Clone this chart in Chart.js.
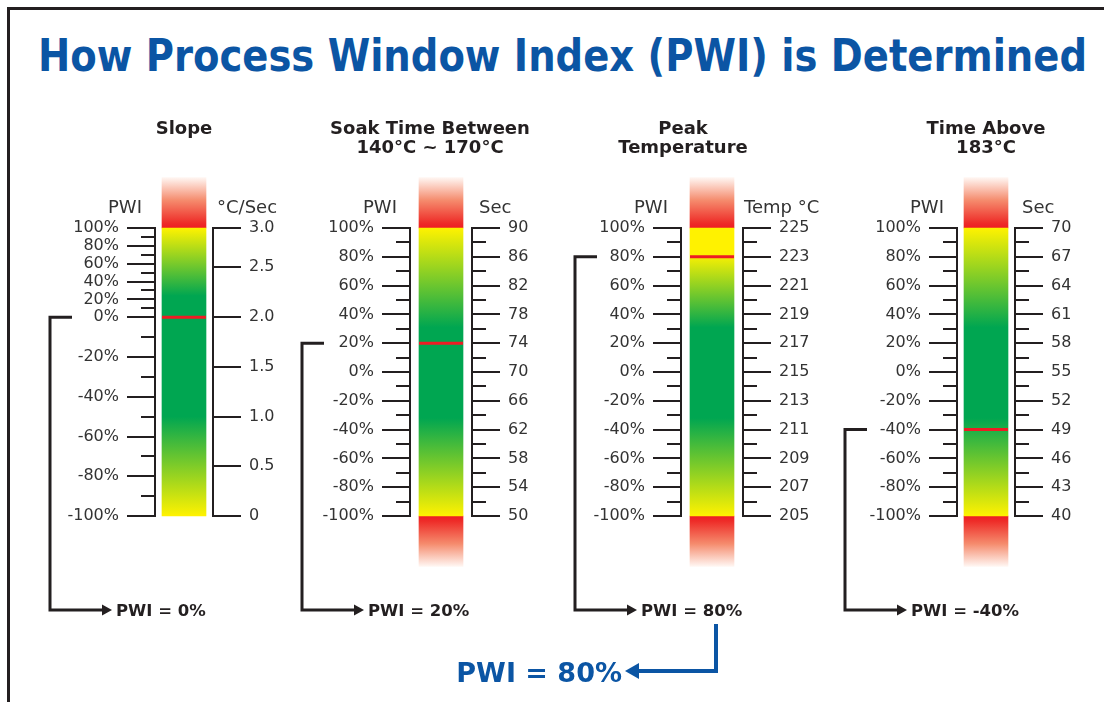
<!DOCTYPE html>
<html>
<head>
<meta charset="utf-8">
<script src="https://cdn.jsdelivr.net/npm/chart.js@4.4.1/dist/chart.umd.min.js"></script>
<style>
html, body { margin: 0; padding: 0; background: #fff; }
#page { position: relative; width: 1104px; height: 702px; overflow: hidden; font-family: "DejaVu Sans", Verdana, sans-serif; }
#frame { position: absolute; left: 7px; top: 7px; width: 1200px; height: 800px; border-left: 3px solid #231f20; border-top: 3px solid #231f20; }
canvas.g { position: absolute; left: 0; top: 0; }
.t { position: absolute; white-space: nowrap; line-height: 1; }
</style>
</head>
<body>
<div id="page"><div id="frame"></div></div>
<script>
// data
const gaugeTitles = [['Slope'], ['Soak Time Between', '140°C ~ 170°C'], ['Peak', 'Temperature'], ['Time Above', '183°C']];
const unitNames = ['°C/Sec', 'Sec', 'Temp °C', 'Sec'];
const pwiMajor = [100, 80, 60, 40, 20, 0, -20, -40, -60, -80, -100];
const pwiMinor = [90, 70, 50, 30, 10, -10, -30, -50, -70, -90];
const slopeTicks = ['3.0', '2.5', '2.0', '1.5', '1.0', '0.5', '0'];
const soakTicks = ['90', '86', '82', '78', '74', '70', '66', '62', '58', '54', '50'];
const peakTicks = ['225', '223', '221', '219', '217', '215', '213', '211', '209', '207', '205'];
const timeTicks = ['70', '67', '64', '61', '58', '55', '52', '49', '46', '43', '40'];
const unitTicks = [slopeTicks, soakTicks, peakTicks, timeTicks];
const measuredPwi = [0, 20, 80, -40];

// the slope gauge is not linear: PWI 0 and 2.0 °C/Sec sit high up the bar
const linearStops = [[-100, -100], [100, 100]];
const slopePwiStops = [[-100, -100], [0, 38], [100, 100]];
const slopeUnitStops = [[0, -100], [2, 38], [2.5, 73], [3, 100]];

// layout / style
const W = 1104, H = 702;
const axisX = [155, 410, 681, 957];
const plotW = [58, 62, 62, 58];
const titleCx = [184, 430, 683, 986];
const unitX = [217, 479, 744, 1022];
const bracketX = [50, 302, 575, 845];
const hasLowerCap = [false, true, true, true];
const greenBand = [[24, -50], [31, -32], [31, -32], [31, -32]];
const yellowHold = [100, 100, 82, 100];
const capExtent = 35;
const INK = '#231f20', LABEL = '#333333', BLUE = '#0b55a4';
const RED = '#ed1c24', YELLOW = '#fff200', GREEN = '#00a651';
const FONT = '"DejaVu Sans", Verdana, sans-serif';

function toP(stops, v) {
  let k = 1;
  while (k < stops.length - 1 && v > stops[k][0]) k++;
  const [v0, p0] = stops[k - 1], [v1, p1] = stops[k];
  return p0 + (v - v0) * (p1 - p0) / (v1 - v0);
}
const pwiStops = i => i === 0 ? slopePwiStops : linearStops;
const unitStops = i => {
  if (i === 0) return slopeUnitStops;
  const t = unitTicks[i];
  return [[parseFloat(t[t.length - 1]), -100], [parseFloat(t[0]), 100]];
};

const page = document.getElementById('page');
function addText(txt, x, baseline, size, opts) {
  const d = document.createElement('div');
  d.className = 't';
  d.textContent = txt;
  d.style.fontSize = size + 'px';
  d.style.fontWeight = opts.bold ? 'bold' : 'normal';
  d.style.color = opts.color || LABEL;
  d.style.top = (baseline - 0.846 * size) + 'px';
  d.style.left = x + 'px';
  if (opts.align === 'center') d.style.transform = 'translateX(-50%)';
  if (opts.align === 'right') d.style.transform = 'translateX(-100%)';
  page.appendChild(d);
  return d;
}

// title squeezed to the original's width, keeping its height
const title = addText('How Process Window Index (PWI) is Determined', 38, 71, 44, {bold: true, color: BLUE});
title.style.transformOrigin = '0 0';
title.style.transform = 'scaleX(' + (1049 / title.offsetWidth) + ')';

function columnFill(ctx, i) {
  const chart = ctx.chart;
  if (!chart.chartArea) return GREEN;
  const y = chart.scales.y;
  const top = y.getPixelForValue(100), bot = y.getPixelForValue(-100);
  const f = v => (y.getPixelForValue(toP(pwiStops(i), v)) - top) / (bot - top);
  const g = chart.ctx.createLinearGradient(0, top, 0, bot);
  g.addColorStop(0, YELLOW);
  g.addColorStop(f(yellowHold[i]), YELLOW);
  g.addColorStop(f(greenBand[i][0]), GREEN);
  g.addColorStop(f(greenBand[i][1]), GREEN);
  g.addColorStop(1, YELLOW);
  return g;
}

function capFill(ctx, dir) {
  const chart = ctx.chart;
  if (!chart.chartArea) return RED;
  const y = chart.scales.y;
  const a = y.getPixelForValue(dir * 100), b = y.getPixelForValue(dir * (100 + capExtent));
  const g = chart.ctx.createLinearGradient(0, a, 0, b);
  g.addColorStop(0, RED);
  g.addColorStop(0.1, '#ee2c28');
  g.addColorStop(0.55, '#f58b6d');
  g.addColorStop(1, '#fff6f2');
  return g;
}

function axis(position, weight, values, labels, tickLength, width) {
  return {
    type: 'linear', position, weight, min: -100, max: 100,
    afterBuildTicks: s => { s.ticks = values.map(v => ({value: v})); },
    afterFit: s => { s.width = width; s.paddingTop = 0; s.paddingBottom = 0; },
    ticks: {
      display: !!labels, autoSkip: false, padding: 8, color: LABEL,
      font: {family: FONT, size: 16},
      callback: (v, k) => labels ? labels[k] : ''
    },
    grid: {drawOnChartArea: false, drawTicks: true, tickLength, tickWidth: 2, tickColor: INK, lineWidth: 2},
    border: {display: true, width: 2, color: INK}
  };
}

const overallIdx = measuredPwi.reduce((m, v, k) => Math.abs(v) > Math.abs(measuredPwi[m]) ? k : m, 0);

const bracketPlugin = {
  id: 'bracket',
  afterDraw(chart, args, opts) {
    const i = opts.index;
    const ctx = chart.ctx, a = chart.chartArea, y = chart.scales.y;
    const yy = y.getPixelForValue(toP(pwiStops(i), measuredPwi[i]));
    const bx = bracketX[i], ry = a.bottom + 94;
    ctx.save();
    ctx.strokeStyle = INK;
    ctx.fillStyle = INK;
    ctx.lineWidth = 3;
    ctx.beginPath();
    ctx.moveTo(bx + 22, yy);
    ctx.lineTo(bx, yy);
    ctx.lineTo(bx, ry);
    ctx.lineTo(bx + 53, ry);
    ctx.stroke();
    ctx.beginPath();
    ctx.moveTo(bx + 52, ry - 5.5);
    ctx.lineTo(bx + 62, ry);
    ctx.lineTo(bx + 52, ry + 5.5);
    ctx.closePath();
    ctx.fill();
    if (i === overallIdx) {
      const cx = a.left + 35, ly = ry + 61;
      ctx.strokeStyle = BLUE;
      ctx.fillStyle = BLUE;
      ctx.lineWidth = 4;
      ctx.beginPath();
      ctx.moveTo(cx, ry + 14);
      ctx.lineTo(cx, ly);
      ctx.lineTo(a.left - 44, ly);
      ctx.stroke();
      ctx.beginPath();
      ctx.moveTo(a.left - 42, ly - 8);
      ctx.lineTo(a.left - 56, ly);
      ctx.lineTo(a.left - 42, ly + 8);
      ctx.closePath();
      ctx.fill();
    }
    ctx.restore();
  }
};

for (let i = 0; i < 4; i++) {
  const c = document.createElement('canvas');
  c.className = 'g';
  c.width = W;
  c.height = H;
  page.appendChild(c);

  const ax = axisX[i], w = plotW[i];
  const units = unitTicks[i];
  const unitVals = units.map(t => toP(unitStops(i), parseFloat(t)));
  const pwiVals = pwiMajor.map(v => toP(pwiStops(i), v));
  const minorVals = pwiMinor.map(v => toP(pwiStops(i), v));
  const markP = toP(pwiStops(i), measuredPwi[i]);

  const datasets = [
    {type: 'line', data: [markP], showLine: false, pointStyle: 'line', pointRadius: 22, pointHoverRadius: 22,
     pointBorderWidth: 3, pointHoverBorderWidth: 3, pointBorderColor: RED, order: 0},
    {data: [[-100, 100]], backgroundColor: ctx => columnFill(ctx, i), order: 1, clip: false},
    {data: [[100, 100 + capExtent]], backgroundColor: ctx => capFill(ctx, 1), order: 1, clip: false}
  ];
  if (hasLowerCap[i]) {
    datasets.push({data: [[-100 - capExtent, -100]], backgroundColor: ctx => capFill(ctx, -1), order: 1, clip: false});
  }

  const scales = {
    x: {type: 'category', display: false},
    y: axis('left', 2, pwiVals, pwiMajor.map(v => v + '%'), 28, 100),
    yMinorL: axis('left', 1, minorVals, null, 14, 0),
    yUnit: axis('right', 2, unitVals, units, 28, 80)
  };
  scales.yMinorL.border.display = false;
  if (i > 0) {
    scales.yMinorR = axis('right', 1, minorVals, null, 14, 0);
    scales.yMinorR.border.display = false;
  }

  new Chart(c, {
    type: 'bar',
    data: {labels: [unitNames[i]], datasets},
    options: {
      responsive: false, animation: false, events: [],
      layout: {padding: {left: ax - 100, right: W - (ax + w) - 80, top: 228, bottom: H - 516}},
      datasets: {bar: {barThickness: 44, grouped: false, borderWidth: 0}},
      plugins: {legend: {display: false}, tooltip: {enabled: false}, bracket: {index: i}},
      scales
    },
    plugins: [bracketPlugin]
  });

  gaugeTitles[i].forEach((line, k) => addText(line, titleCx[i], 134 + k * 19, 18, {bold: true, color: INK, align: 'center'}));
  addText('PWI', ax - 30, 213, 18, {align: 'center'});
  addText(unitNames[i], unitX[i], 213, 18, {});
  addText('PWI = ' + measuredPwi[i] + '%', bracketX[i] + 66, 617, 16.5, {bold: true, color: INK});
}

addText('PWI = ' + measuredPwi[overallIdx] + '%', axisX[overallIdx] - 59, 682, 27, {bold: true, color: BLUE, align: 'right'});
</script>
</body>
</html>
